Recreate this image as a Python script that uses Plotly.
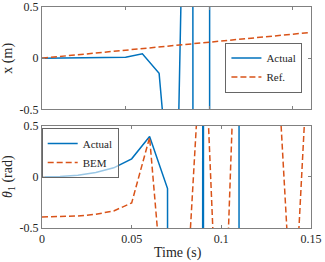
import plotly.graph_objects as go

# time samples (s)
t = [0.0, 0.01, 0.02, 0.03, 0.04, 0.05, 0.06, 0.07, 0.08, 0.09, 0.10, 0.11, 0.12, 0.13, 0.14, 0.15, 0.16]

# top panel: cart position x (m)
x_actual = [0.0, 0.0005, 0.001, 0.002, 0.004, 0.009, 0.042, -0.147, -2.0, 6.3, -300.0, 15000.0,
            None, None, None, None, None]
x_ref = [0.0, 0.016, 0.031, 0.047, 0.062, 0.078, 0.094, 0.109, 0.125, 0.141, 0.156, 0.172,
         0.188, 0.203, 0.219, 0.234, 0.25]

# bottom panel: theta_1 (rad)
th_actual = [0.0, 0.003, 0.016, 0.042, 0.088, 0.176, 0.395, -0.114, -250.0, 10.0, -4000.0, 50.0,
             100000.0, None, None, None, None]
th_bem = [-0.392, -0.39, -0.383, -0.366, -0.333, -0.255, 0.385, -1.67, -1.35, 1.7, -2.5, 2.5,
          2.8, 1.55, -1.6, 1.76, None]

y_ticks = [-0.5, 0, 0.5]
y_ticktext = ["-0.5", "0", "0.5"]
x_ticks = [0, 0.05, 0.1, 0.15]
x_ticktext = ["0", "0.05", "0.1", "0.15"]

BLUE = "#0072BD"
ORANGE = "#D95319"
AX = "#808080"
TXT = "#262626"
FONT = "Liberation Serif"

fig = go.Figure()
fig.add_trace(go.Scatter(x=t, y=x_actual, mode="lines", name="Actual",
                         line=dict(color=BLUE, width=1.5), xaxis="x", yaxis="y",
                         legend="legend", connectgaps=False))
fig.add_trace(go.Scatter(x=t, y=x_ref, mode="lines", name="Ref.",
                         line=dict(color=ORANGE, width=1.5, dash="6px,3px"), xaxis="x", yaxis="y",
                         legend="legend"))
fig.add_trace(go.Scatter(x=t, y=th_actual, mode="lines", name="Actual",
                         line=dict(color=BLUE, width=1.5), xaxis="x2", yaxis="y2",
                         legend="legend2"))
fig.add_trace(go.Scatter(x=t, y=th_bem, mode="lines", name="BEM",
                         line=dict(color=ORANGE, width=1.5, dash="6px,3px"), xaxis="x2", yaxis="y2",
                         legend="legend2"))

axcommon = dict(showline=True, linecolor=AX, linewidth=1, mirror="ticks", ticks="inside",
                ticklen=3, tickcolor=AX, showgrid=False, zeroline=False, automargin=False,
                tickfont=dict(family=FONT, size=12, color=TXT))

title_font = dict(family=FONT, size=14, color=TXT)

fig.update_layout(
    width=325, height=262,
    margin=dict(l=42, r=14, t=7, b=34, autoexpand=False),
    paper_bgcolor="white", plot_bgcolor="white",
    font=dict(family=FONT, color=TXT),
    xaxis=dict(domain=[0, 1], range=[0, 0.1608], anchor="y", tickvals=x_ticks,
               showticklabels=False, **axcommon),
    yaxis=dict(domain=[0.537, 1], range=[-0.5, 0.5], anchor="x", tickvals=y_ticks,
               ticktext=y_ticktext, **axcommon),
    xaxis2=dict(domain=[0, 1], range=[0, 0.15], anchor="y2", tickvals=x_ticks,
                ticktext=x_ticktext, **axcommon),
    yaxis2=dict(domain=[0, 0.463], range=[-0.5, 0.5], anchor="x2", tickvals=y_ticks,
                ticktext=y_ticktext, **axcommon),
    legend=dict(x=0.825, y=0.726, xanchor="center", yanchor="middle", bgcolor="white",
                bordercolor="#666", borderwidth=1, font=dict(family=FONT, size=11, color=TXT),
                itemwidth=30, tracegroupgap=0),
    legend2=dict(x=0.142, y=0.452, xanchor="center", yanchor="top",
                 bgcolor="rgba(255,255,255,0.6)",
                 bordercolor="#666", borderwidth=1, font=dict(family=FONT, size=11, color=TXT),
                 itemwidth=30, tracegroupgap=0),
    showlegend=True,
    annotations=[
        dict(text="x (m)", xref="paper", yref="paper", x=-0.125, y=0.768, textangle=-90,
             showarrow=False, font=title_font, xanchor="center", yanchor="middle"),
        dict(text="<i>θ</i><sub>1</sub> (rad)", xref="paper", yref="paper", x=-0.122, y=0.232,
             textangle=-90, showarrow=False, font=title_font, xanchor="center", yanchor="middle"),
        dict(text="Time (s)", xref="paper", yref="paper", x=0.506, y=-0.1145,
             showarrow=False, font=title_font, xanchor="center", yanchor="middle"),
    ],
)

fig.write_html("out.html", config={"displayModeBar": False},
               post_script="document.body.style.margin='0px';")
